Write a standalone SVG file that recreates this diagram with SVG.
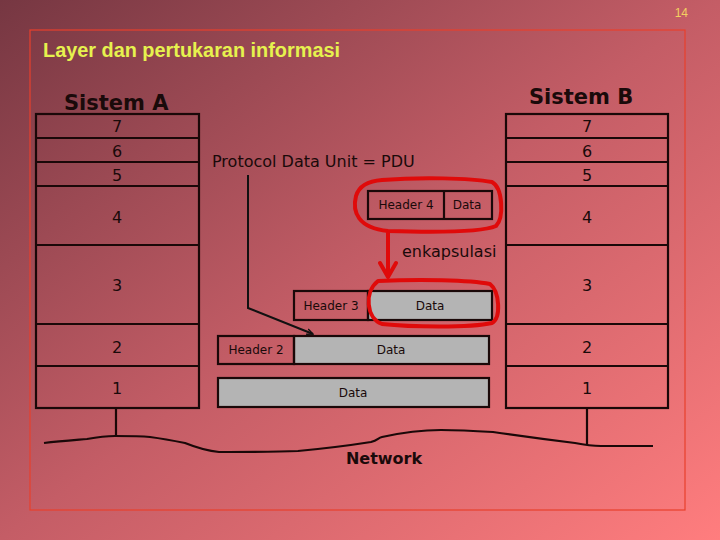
<svg xmlns="http://www.w3.org/2000/svg" width="720" height="540" viewBox="0 0 720 540">
<defs>
<linearGradient id="bg" x1="0" y1="0" x2="1" y2="1">
<stop offset="0" stop-color="#763742"/>
<stop offset="0.5" stop-color="#c45d66"/>
<stop offset="1" stop-color="#ff7d7e"/>
</linearGradient>
<marker id="ah" viewBox="0 0 10 10" refX="9" refY="5" markerWidth="7" markerHeight="7" orient="auto" markerUnits="userSpaceOnUse">
<path d="M0,1 L9,5 L0,9" fill="none" stroke="#111" stroke-width="2"/>
</marker>
<style>
.st{fill:none;stroke:#1a0808;stroke-width:2.2}
.gr{fill:#b4b4b4;stroke:#1a0808;stroke-width:2.2}
.bx{fill:none;stroke:#1a0808;stroke-width:2.2}
.num{font-family:"DejaVu Sans",sans-serif;font-size:16px;fill:#1a0a0a;text-anchor:middle}
.sm{font-family:"DejaVu Sans",sans-serif;font-size:12px;fill:#1a0a0a;text-anchor:middle}
.lbl{font-family:"DejaVu Sans",sans-serif;font-size:16px;fill:#1a0a0a}
.sys{font-family:"DejaVu Sans",sans-serif;font-size:21px;font-weight:bold;fill:#1a0a0a}
.red{fill:none;stroke:#e00a0a;stroke-width:4;stroke-linecap:round;stroke-linejoin:round}
.wire{fill:none;stroke:#1a0808;stroke-width:2.2}
</style>
</defs>
<rect width="720" height="540" fill="url(#bg)"/>
<rect x="30" y="30" width="655" height="480" fill="none" stroke="#e8402c" stroke-width="1.2"/>
<text x="688" y="17" font-family="Liberation Sans, sans-serif" font-size="12" fill="#f2d060" text-anchor="end">14</text>
<text x="43" y="57" font-family="Liberation Sans, sans-serif" font-size="19.5" font-weight="bold" fill="#e6f24e" textLength="297" lengthAdjust="spacingAndGlyphs">Layer dan pertukaran informasi</text>

<g id="sistemA">
<text class="sys" x="64" y="110">Sistem A</text>
<rect class="st" x="36" y="114" width="163" height="294"/>
<path class="st" d="M36,138H199M36,162H199M36,186H199M36,245H199M36,324H199M36,366H199"/>
<text class="num" x="117" y="132">7</text>
<text class="num" x="117" y="157">6</text>
<text class="num" x="117" y="181">5</text>
<text class="num" x="117" y="223">4</text>
<text class="num" x="117" y="291">3</text>
<text class="num" x="117" y="353">2</text>
<text class="num" x="117" y="394">1</text>
</g>

<g id="sistemB">
<text class="sys" x="529" y="104">Sistem B</text>
<rect class="st" x="506" y="114" width="162" height="294"/>
<path class="st" d="M506,138H668M506,162H668M506,186H668M506,245H668M506,324H668M506,366H668"/>
<text class="num" x="587" y="132">7</text>
<text class="num" x="587" y="157">6</text>
<text class="num" x="587" y="181">5</text>
<text class="num" x="587" y="223">4</text>
<text class="num" x="587" y="291">3</text>
<text class="num" x="587" y="353">2</text>
<text class="num" x="587" y="394">1</text>
</g>

<g id="pdu-label">
<text class="lbl" x="212" y="167">Protocol Data Unit = PDU</text>
</g>

<g id="pdu4">
<rect class="bx" x="368" y="191" width="124" height="28"/>
<path class="bx" d="M444,191V219"/>
<text class="sm" x="406" y="209">Header 4</text>
<text class="sm" x="467" y="209">Data</text>
</g>

<g id="pdu3">
<rect class="gr" x="368" y="291" width="124" height="29"/>
<rect class="bx" x="294" y="291" width="74" height="29"/>
<text class="sm" x="331" y="310">Header 3</text>
<text class="sm" x="430" y="310">Data</text>
</g>

<g id="pdu2">
<rect class="gr" x="294" y="336" width="195" height="28"/>
<rect class="bx" x="218" y="336" width="76" height="28"/>
<text class="sm" x="256" y="354">Header 2</text>
<text class="sm" x="391" y="354">Data</text>
</g>

<g id="pdu1">
<rect class="gr" x="218" y="378" width="271" height="29"/>
<text class="sm" x="353" y="397">Data</text>
</g>

<g id="highlights">
<path class="red" d="M382,180 C420,177 470,178 492,182 C503,188 504,218 496,226 C480,233 420,232 388,231 C358,228 352,212 356,196 C359,186 368,181 382,180 Z"/>
<path class="red" d="M378,281 C420,279 470,280 490,284 C500,292 501,318 492,323 C470,328 410,327 382,324 C366,318 364,292 378,281 Z"/>
<text class="lbl" x="402" y="257">enkapsulasi</text>
</g>

<g id="connectors">
<path class="red" d="M388,233V276M380,263L388,277L396,263"/>
<path d="M248,175V308L313,334" fill="none" stroke="#111" stroke-width="2" marker-end="url(#ah)"/>
<path class="wire" d="M116,408V436M587,408V445"/>
<path class="wire" d="M44,443 C60,441 75,440 87,439 C98,437 106,436 115,436 C128,436 140,436 150,437 C165,439 175,441 185,443 C200,449 208,451 219,452 C250,452 275,452 298,451 C330,448 352,445 371,442 C378,440 378,438 382,437 C400,433 420,430 441,430 C460,430 477,431 493,432 C520,436 550,440 575,443 C585,445 590,446 601,446 L653,446"/>
<text x="384" y="464" font-family="DejaVu Sans, sans-serif" font-size="16" font-weight="bold" fill="#1a0a0a" text-anchor="middle">Network</text>
</g>
</svg>
